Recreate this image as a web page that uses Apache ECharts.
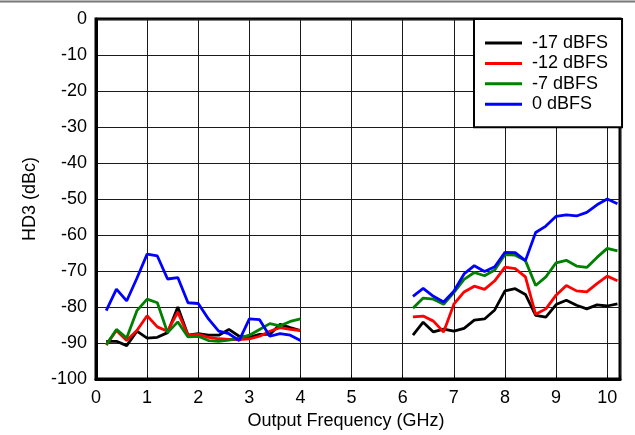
<!DOCTYPE html>
<html><head><meta charset="utf-8">
<script src="https://cdn.jsdelivr.net/npm/echarts@6/dist/echarts.min.js"></script>
<style>html,body{margin:0;padding:0;background:#fff}#c{width:635px;height:435px}</style>
</head><body><div id="c"></div>
<script>
const seriesNames = ['-17 dBFS', '-12 dBFS', '-7 dBFS', '0 dBFS'];
const freqLow = [0.2,0.4,0.6,0.8,1.0,1.2,1.4,1.6,1.8,2.0,2.2,2.4,2.6,2.8,3.0,3.2,3.4,3.6,3.8,4.0];
const freqHigh = [6.2,6.4,6.6,6.8,7.0,7.2,7.4,7.6,7.8,8.0,8.2,8.4,8.6,8.8,9.0,9.2,9.4,9.6,9.8,10.0,10.2];

const m17Low = [-89.5,-89.5,-90.7,-86.7,-88.6,-88.4,-87.1,-80,-87.8,-87.4,-87.8,-87.8,-86.2,-88.1,-88.4,-87.6,-87.6,-84.8,-85.7,-86.5];
const m17High = [-87.8,-84.2,-86.9,-86.1,-86.7,-85.9,-83.6,-83.3,-80.8,-75.5,-74.9,-76.5,-82.3,-82.8,-79.3,-78.1,-79.5,-80.5,-79.4,-79.7,-79.1];
const m12Low = [-90.5,-86.5,-89.3,-86.5,-82.4,-85.5,-86.7,-81.4,-87.8,-87.6,-88.4,-88.8,-89,-89,-88.8,-88.1,-86.7,-85.7,-86.2,-86.5];
const m12High = [-82.7,-82.5,-83.9,-86.9,-79.2,-75.8,-74.2,-75.1,-72.7,-68.9,-69.3,-71.6,-82,-80.5,-76.7,-74,-75.5,-75.8,-73.5,-71.4,-72.7];
const m7Low = [-90.5,-86.2,-88.6,-81,-77.8,-78.8,-87.1,-84.1,-88.3,-88.1,-89.3,-89.5,-89.2,-88.6,-87.8,-86.2,-84.6,-85.2,-84,-83.3];
const m7High = [-80.3,-77.5,-77.8,-79.2,-76,-72.3,-70.4,-71.3,-69.7,-65.4,-65.6,-67.1,-74,-71.6,-67.7,-67,-68.6,-69,-66.2,-63.7,-64.4];
const m0Low = [-81,-75,-78.3,-72,-65.3,-65.8,-72.2,-71.8,-78.8,-79,-83.3,-86.7,-87.4,-89.3,-83.3,-83.5,-88.1,-87.4,-87.8,-89.3];
const m0High = [-77,-74.8,-77,-78.6,-75.6,-70.8,-68.5,-70.1,-68.8,-64.8,-64.9,-67.1,-59.3,-57.5,-54.8,-54.4,-54.7,-53.7,-51.6,-50,-51.3];

const yTicks = [0,-10,-20,-30,-40,-50,-60,-70,-80,-90,-100];
const xTicks = [0,1,2,3,4,5,6,7,8,9,10];

const colors = ['#000000', '#ff0000', '#008000', '#0000ff'];
const lows = [m17Low, m12Low, m7Low, m0Low];
const highs = [m17High, m12High, m7High, m0High];

function build(lo, hi) {
  const d = freqLow.map((f, i) => [f, lo[i]]);
  d.push([5, null]);
  freqHigh.forEach((f, i) => d.push([f, hi[i]]));
  return d;
}

const chart = echarts.init(document.getElementById('c'), null, {renderer: 'canvas'});
const font = 'Arial, "Liberation Sans", sans-serif';
chart.setOption({
  animation: false,
  backgroundColor: '#fff',
  textStyle: {fontFamily: font},
  grid: {left: 96, right: 15, top: 19, bottom: 55, show: true, borderColor: '#000', borderWidth: 3, containLabel: false},
  graphic: [{type: 'line', shape: {x1: 0, y1: 1.5, x2: 635, y2: 1.5}, style: {stroke: '#777', lineWidth: 2}, z: 10}],
  legend: {
    data: seriesNames, orient: 'vertical', left: 474, top: 19,
    backgroundColor: '#fff', borderColor: '#000', borderWidth: 2, borderRadius: 0,
    padding: [14, 14, 13, 11], itemGap: 0.4, itemWidth: 37, itemHeight: 3, icon: 'rect',
    textStyle: {fontSize: 18, color: '#000', fontFamily: font, lineHeight: 20, padding: [0, 0, 0, 5]}, z: 20
  },
  xAxis: {
    type: 'value', min: 0, max: 10.25, interval: 1,
    name: 'Output Frequency (GHz)', nameLocation: 'middle', nameGap: 31,
    nameTextStyle: {fontSize: 18, color: '#000', fontFamily: font, padding: [0, 24, 0, 0]},
    axisLine: {show: true, onZero: false, lineStyle: {color: '#000', width: 3}},
    axisTick: {show: true, inside: true, length: 4, lineStyle: {color: '#000'}},
    axisLabel: {fontSize: 18, color: '#000', margin: 10, fontFamily: font,
      formatter: v => (xTicks.indexOf(v) >= 0 ? String(v) : '')},
    splitLine: {show: true, lineStyle: {color: '#1a1a1a', width: 1}}
  },
  yAxis: {
    type: 'value', min: -100, max: 0, interval: 10,
    name: 'HD3 (dBc)', nameLocation: 'middle', nameGap: 57, nameRotate: 90,
    nameTextStyle: {fontSize: 18, color: '#000', fontFamily: font},
    axisLine: {show: true, onZero: false, lineStyle: {color: '#000', width: 3}},
    axisTick: {show: false},
    axisLabel: {fontSize: 18, color: '#000', margin: 9, fontFamily: font,
      formatter: v => (yTicks.indexOf(v) >= 0 ? String(v) : '')},
    splitLine: {show: true, lineStyle: {color: '#1a1a1a', width: 1}}
  },
  series: seriesNames.map((n, k) => ({
    name: n, type: 'line', data: build(lows[k], highs[k]),
    showSymbol: false, symbol: 'none', connectNulls: false,
    lineStyle: {color: colors[k], width: 2.8}, itemStyle: {color: colors[k]},
    z: 3 + k
  }))
});
</script></body></html>
